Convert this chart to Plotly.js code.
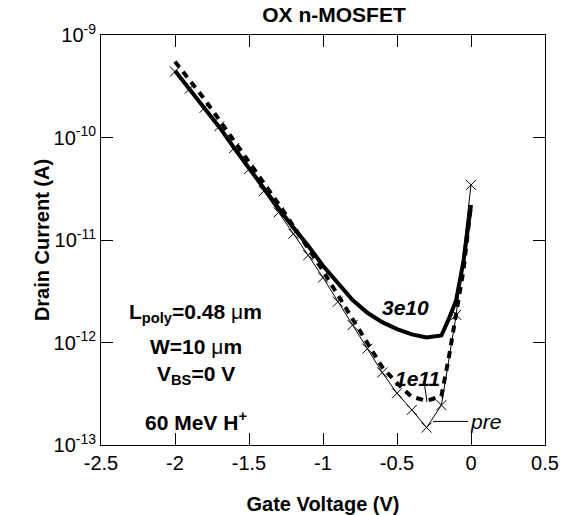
<!DOCTYPE html>
<html>
<head>
<meta charset="utf-8">
<script src="https://cdn.plot.ly/plotly-3.0.1.min.js"></script>
<style>html,body{margin:0;padding:0;background:#fff;}#chart{width:570px;height:515px;}</style>
</head>
<body>
<div id="chart"></div>
<script>
// ---- data ----
const vgPre = [-2.0,-1.9,-1.8,-1.7,-1.6,-1.5,-1.4,-1.3,-1.2,-1.1,-1.0,-0.9,-0.8,-0.7,-0.6,-0.5,-0.4,-0.3,-0.2,-0.1,0.0];
const idPre = [4.4e-10,3.0e-10,1.95e-10,1.29e-10,7.9e-11,4.9e-11,3.0e-11,1.86e-11,1.15e-11,7.1e-12,4.3e-12,2.5e-12,1.48e-12,8.7e-13,5.1e-13,3.2e-13,2.2e-13,1.48e-13,2.45e-13,1.86e-12,3.45e-11];

const vg3e10 = [-2.0,-1.9,-1.8,-1.7,-1.6,-1.5,-1.4,-1.3,-1.2,-1.1,-1.0,-0.9,-0.8,-0.7,-0.6,-0.5,-0.4,-0.3,-0.2,-0.15,-0.1,-0.05,0.0];
const id3e10 = [4.47e-10,2.95e-10,1.95e-10,1.26e-10,7.9e-11,5.0e-11,3.16e-11,2.04e-11,1.32e-11,8.8e-12,5.6e-12,3.8e-12,2.6e-12,1.95e-12,1.58e-12,1.35e-12,1.2e-12,1.12e-12,1.17e-12,1.7e-12,2.6e-12,6.3e-12,2.2e-11];

const vg1e11 = [-2.0,-1.9,-1.8,-1.7,-1.6,-1.5,-1.4,-1.3,-1.2,-1.1,-1.0,-0.9,-0.8,-0.7,-0.6,-0.5,-0.4,-0.3,-0.2,-0.15,-0.1,-0.05,0.0];
const id1e11 = [5.5e-10,3.6e-10,2.35e-10,1.48e-10,9.3e-11,5.9e-11,3.6e-11,2.24e-11,1.38e-11,8.3e-12,5.0e-12,2.9e-12,1.66e-12,9.5e-13,5.75e-13,4.0e-13,2.95e-13,2.7e-13,3.0e-13,7.1e-13,1.9e-12,5.2e-12,2.2e-11];

const xTickVals = [-2.5,-2,-1.5,-1,-0.5,0,0.5];
const xTickText = ['-2.5','-2','-1.5','-1','-0.5','0','0.5'];
const yTickVals = [1e-13,1e-12,1e-11,1e-10,1e-9];
const yTickText = ['10<sup>-13</sup>','10<sup>-12</sup>','10<sup>-11</sup>','10<sup>-10</sup>','10<sup>-9</sup>'];

const FONT = 'Arial, "Liberation Sans", Helvetica, sans-serif';

const traces = [
  {x: vg3e10, y: id3e10, mode: 'lines', line: {color: '#000', width: 4}, hoverinfo: 'skip'},
  {x: vg1e11, y: id1e11, mode: 'lines', line: {color: '#000', width: 4, dash: '7px,6px'}, hoverinfo: 'skip'},
  {x: vgPre, y: idPre, mode: 'lines+markers', line: {color: '#000', width: 1},
   marker: {symbol: 'x-thin-open', size: 10, color: '#000', line: {color: '#000', width: 1}}, hoverinfo: 'skip'}
];

const annFont = {family: FONT, size: 21, color: '#000'};
const layout = {
  width: 570, height: 515,
  margin: {l: 101, r: 25, t: 35, b: 70},
  paper_bgcolor: '#fff', plot_bgcolor: '#fff',
  showlegend: false,
  font: {family: FONT, color: '#000'},
  title: {text: '<b>OX n-MOSFET</b>', font: {family: FONT, size: 21, color: '#000'},
          xref: 'container', x: 334/570, xanchor: 'center', yref: 'container', y: 1 - 15/515, yanchor: 'middle'},
  xaxis: {
    range: [-2.5, 0.5], tickmode: 'array', tickvals: xTickVals, ticktext: xTickText,
    ticks: 'inside', ticklen: 12, tickwidth: 1, tickcolor: '#000',
    showline: true, linecolor: '#000', linewidth: 1, mirror: 'ticks',
    showgrid: false, zeroline: false,
    tickfont: {family: FONT, size: 20, color: '#000'},
    title: {text: '<b>Gate Voltage (V)</b>', font: {family: FONT, size: 20, color: '#000'}}
  },
  yaxis: {
    type: 'log', range: [-13, -9], tickmode: 'array', tickvals: yTickVals, ticktext: yTickText,
    ticks: 'inside', ticklen: 12, tickwidth: 1, tickcolor: '#000',
    showline: true, linecolor: '#000', linewidth: 1, mirror: 'ticks',
    showgrid: false, zeroline: false,
    tickfont: {family: FONT, size: 20, color: '#000'},
    title: {text: '<b>Drain Current (A)</b>', font: {family: FONT, size: 20, color: '#000'}}
  },
  annotations: [
    {x: -0.44, y: -11.66, xref: 'x', yref: 'y', text: '<b><i>3e10</i></b>', showarrow: false, font: annFont},
    {x: -0.36, y: -12.35, xref: 'x', yref: 'y', text: '<b><i>1e11</i></b>', showarrow: false, font: annFont},
    {x: -0.02, y: -12.77, xref: 'x', yref: 'y', xanchor: 'left', text: '<i>pre</i>', showarrow: false, font: annFont},
    {x: -1.86, y: -11.71, xref: 'x', yref: 'y', text: '<b>L<sub>poly</sub>=0.48 </b>μ<b>m</b>', showarrow: false, font: annFont},
    {x: -1.86, y: -12.04, xref: 'x', yref: 'y', text: '<b>W=10 </b>μ<b>m</b>', showarrow: false, font: annFont},
    {x: -1.86, y: -12.32, xref: 'x', yref: 'y', text: '<b>V<sub>BS</sub>=0 V</b>', showarrow: false, font: annFont},
    {x: -1.86, y: -12.77, xref: 'x', yref: 'y', text: '<b>60 MeV H<sup>+</sup></b>', showarrow: false, font: annFont}
  ],
  shapes: [
    {type: 'line', xref: 'x', yref: 'y', x0: -0.257, x1: -0.02, y0: Math.pow(10, -12.77), y1: Math.pow(10, -12.77), line: {color: '#000', width: 1}},
    {type: 'line', xref: 'x', yref: 'y', x0: -0.318, x1: -0.297, y0: Math.pow(10, -12.38), y1: Math.pow(10, -12.58), line: {color: '#000', width: 1}}
  ]
};

Plotly.newPlot('chart', traces, layout, {staticPlot: true, displayModeBar: false});
</script>
</body>
</html>
